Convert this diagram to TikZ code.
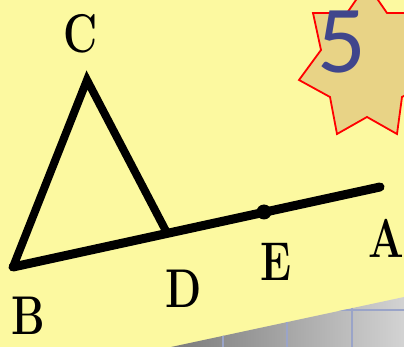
\documentclass[tikz,border=0pt]{standalone}
\usepackage{fontspec}
\usepackage{tikz}
\usetikzlibrary{calc}
\newfontfamily\numsans{Carlito}
\definecolor{paper}{HTML}{FCF9A0}
\definecolor{starfill}{HTML}{E8D386}
\definecolor{numblue}{HTML}{40468C}
\definecolor{gridline}{HTML}{9AA4C8}
\tikzset{
  seg/.style={line width=8pt, line join=miter},
  baseline/.style={line width=9pt, line cap=round},
  lbl/.style={inner sep=0pt, font=\rmfamily\bfseries\fontsize{42}{42}\selectfont},
  starline/.style={draw=red, line width=1.8pt, fill=starfill},
}

\begin{document}
\begin{tikzpicture}[x=1pt, y=-1pt]

% ── Page ──────────────────────────────────────────────────────────────────────
\fill[paper] (0,0) rectangle (404,347);
\useasboundingbox (0,0) rectangle (404,347);

% ── Corner of the grid sheet ─────────────────────────────────────────────────
\begin{scope}
  \clip (171,347) -- (404,297) -- (404,347) -- cycle;
  \shade[left color=black!52, right color=black!15]
    (171,290) rectangle (420,347);
  \foreach \gx in {223,287,352}
    \draw[gridline, line width=1.3pt] (\gx,290) -- (\gx,347);
  \draw[gridline, line width=1.3pt] (160,310) -- (404,310);
\end{scope}

% ── Star badge ───────────────────────────────────────────────────────────────
\draw[starline] (367,-16) -- (387,13) -- (419,13) -- (411,50) -- (433,80)
  -- (402,97) -- (397,134) -- (367,117) -- (337,134) -- (330,97)
  -- (299,80) -- (321,50) -- (313,13) -- (347,13) -- cycle;
\node[inner sep=0pt, text=numblue, font=\numsans\fontsize{96}{96}\selectfont]
  (num) at (342,42) {5};

% ── Points ───────────────────────────────────────────────────────────────────
\coordinate (B) at (13,267);
\coordinate (C) at (87,80);
\coordinate (D) at (167,233);
\coordinate (E) at (264,212);
\coordinate (A) at (380,187);

% ── Triangle and line ────────────────────────────────────────────────────────
\draw[baseline] (B) -- (A);
\draw[seg] (B) -- (C) -- (D);
\fill (E) circle (7.5);

% ── Labels ───────────────────────────────────────────────────────────────────
\node[lbl] (lblC) at (81,34) {\scalebox{1}[1.3]{C}};
\node[lbl] (lblB) at (28,316) {\scalebox{1}[1.3]{B}};
\node[lbl] (lblD) at (184,289) {\scalebox{1}[1.3]{D}};
\node[lbl] (lblE) at (276,262) {\scalebox{1}[1.3]{E}};
\node[lbl] (lblA) at (386,238) {\scalebox{1}[1.3]{A}};

\end{tikzpicture}
\end{document}
